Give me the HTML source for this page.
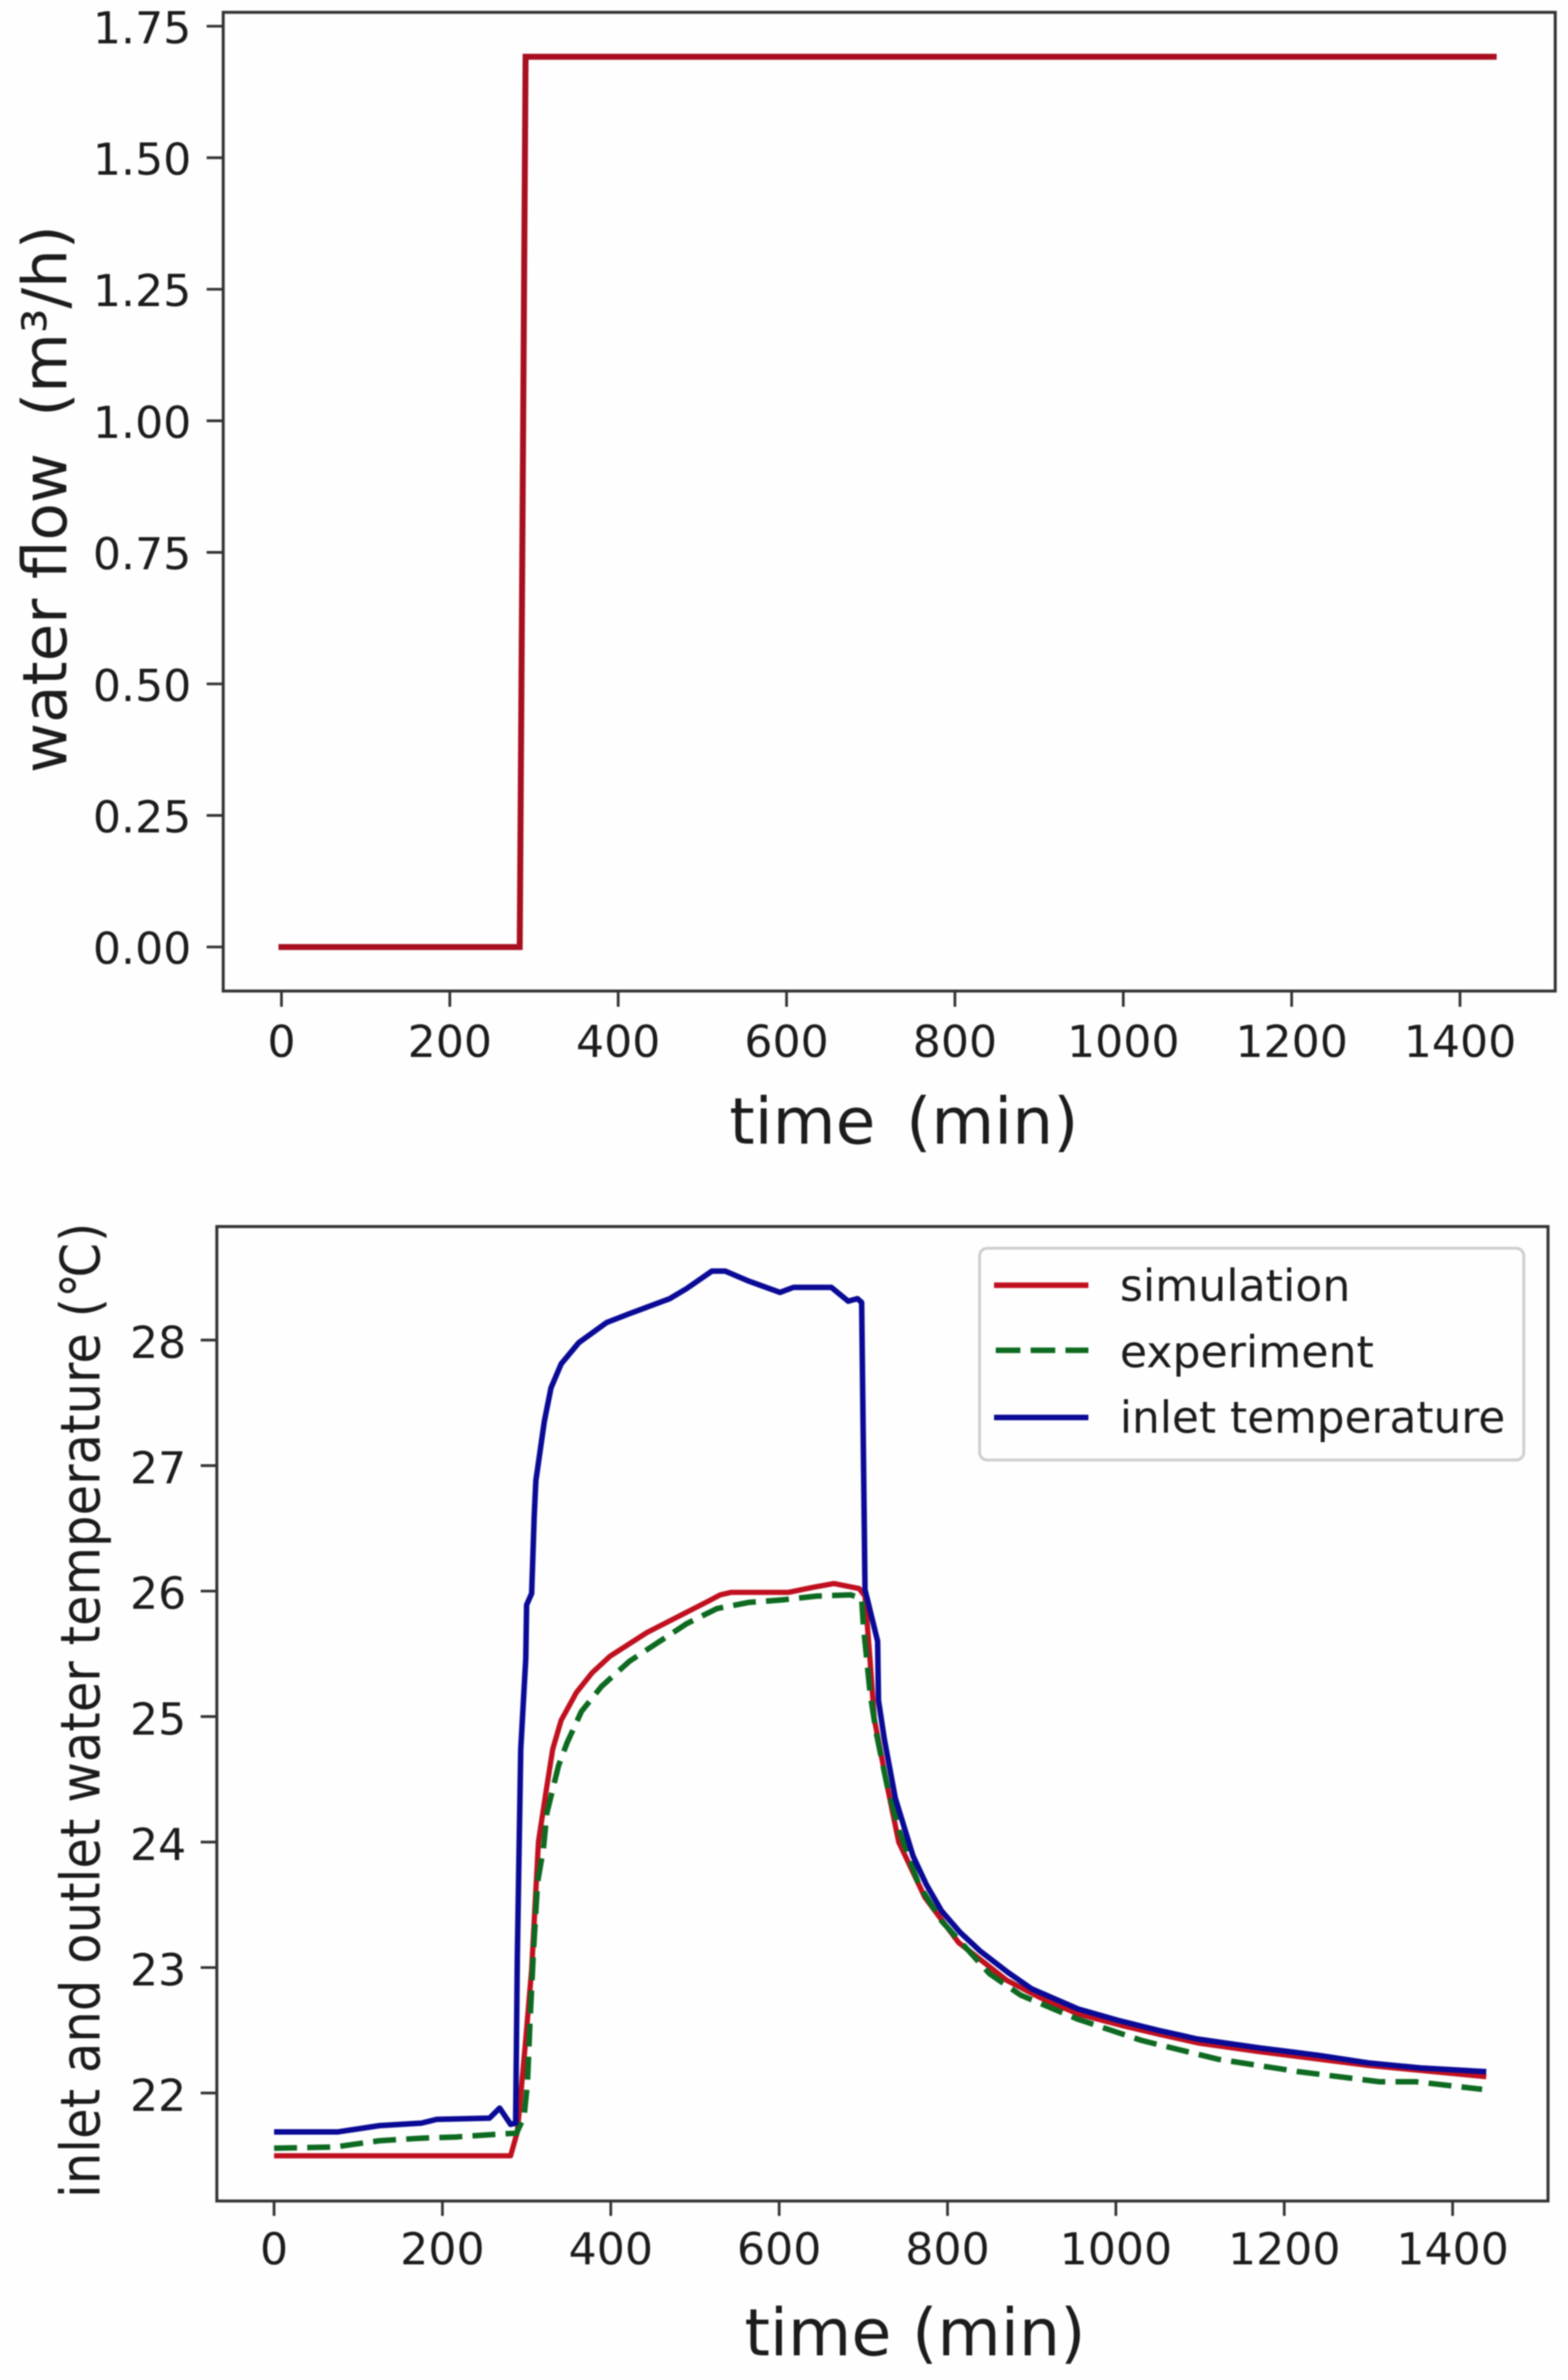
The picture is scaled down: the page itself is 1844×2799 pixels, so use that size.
<!DOCTYPE html>
<html lang="en">
<head>
<meta charset="utf-8">
<title>Water flow and water temperature over time</title>
<style>
  html, body { margin: 0; padding: 0; background: #fefefe; }
  #figure { display: block; filter: blur(0.9px); }
  text { font-family: "DejaVu Sans", "Liberation Sans", "Noto Sans CJK SC", sans-serif; fill: #1c1c1c; white-space: pre; }
  .spine { fill: none; stroke: #333; stroke-width: 3.5; }
  .tick { stroke: #333; stroke-width: 3.2; }
  .ticklabel { font-size: 52px; }
</style>
</head>
<body>
<svg id="figure" xmlns="http://www.w3.org/2000/svg" width="1844" height="2799" viewBox="0 0 1844 2799">
  <rect x="0" y="0" width="1844" height="2799" fill="#fefefe"/>

  <g id="flow-chart">
    <rect class="spine" x="262.5" y="14.5" width="1566.5" height="1151"/>
    <g id="flow-ticks"></g>
    <path id="flow-line" fill="none" stroke="#a80f20" stroke-width="7" stroke-linecap="square" stroke-linejoin="miter"/>
    <text x="1063" y="1345" text-anchor="middle" font-size="76" word-spacing="12">time (min)</text>
    <text transform="translate(78 587) rotate(-90)" text-anchor="middle" font-size="72">water flow <tspan dx="20">(m³/h)</tspan></text>
  </g>

  <g id="temp-chart">
    <rect class="spine" x="255" y="1442.5" width="1565.5" height="1146"/>
    <g id="temp-ticks"></g>
    <path id="sim-line" fill="none" stroke="#c0101f" stroke-width="6.2" stroke-linejoin="round"/>
    <path id="exp-line" fill="none" stroke="#0d6a20" stroke-width="6.5" stroke-dasharray="27 12"/>
    <path id="inlet-line" fill="none" stroke="#0a0a96" stroke-width="6.5" stroke-linejoin="round"/>
    <text x="1076" y="2770" text-anchor="middle" font-size="76.5">time (min)</text>
    <text transform="translate(117 2011.5) rotate(-90)" text-anchor="middle" font-size="64" textLength="1147" lengthAdjust="spacingAndGlyphs">inlet and outlet water temperature (℃)</text>

    <g>
      <rect x="1152" y="1468" width="640" height="249" rx="9" ry="9" fill="#fefefe" stroke="#cfcfcf" stroke-width="3.5"/>
      <g>
        <line x1="1169" x2="1280" y1="1511.5" y2="1511.5" stroke="#c0101f" stroke-width="6.5"/>
        <text x="1317" y="1530" font-size="52">simulation</text>
      </g>
      <g>
        <line x1="1171" x2="1280" y1="1588" y2="1588" stroke="#0d6a20" stroke-width="6.5" stroke-dasharray="29 12"/>
        <text x="1317" y="1608" font-size="52">experiment</text>
      </g>
      <g>
        <line x1="1169" x2="1280" y1="1667" y2="1667" stroke="#0a0a96" stroke-width="6.5"/>
        <text x="1317" y="1685" font-size="51.5">inlet temperature</text>
      </g>
    </g>
  </g>
</svg>

<script>
const xTickValues = [0, 200, 400, 600, 800, 1000, 1200, 1400];
const flowTickValues = [0, 0.25, 0.5, 0.75, 1, 1.25, 1.5, 1.75];
const flowTickLabels = ["0.00", "0.25", "0.50", "0.75", "1.00", "1.25", "1.50", "1.75"];
const tempTickValues = [22, 23, 24, 25, 26, 27, 28];
const tempTickLabels = ["22", "23", "24", "25", "26", "27", "28"];

const flowTime = [0, 283, 290, 1440];
const flowValues = [0, 0, 1.692, 1.692];

const inletTime = [0, 76, 125, 175, 193, 256, 268, 281, 287, 289, 293, 299, 300, 306, 309, 311, 321, 329, 341, 362, 395, 422, 470, 490, 520, 536, 564, 601, 617, 662, 682, 693, 698, 702, 717, 718, 725, 738, 759, 775, 793, 815, 839, 872, 900, 955, 1002, 1050, 1097, 1170, 1241, 1300, 1362, 1440];
const inletTemp = [21.69, 21.69, 21.74, 21.76, 21.79, 21.80, 21.88, 21.75, 21.76, 23.09, 24.74, 25.46, 25.89, 25.98, 26.59, 26.88, 27.35, 27.62, 27.81, 27.98, 28.14, 28.21, 28.33, 28.41, 28.55, 28.55, 28.47, 28.38, 28.42, 28.42, 28.31, 28.33, 28.30, 26.01, 25.60, 25.13, 24.82, 24.35, 23.89, 23.66, 23.45, 23.28, 23.13, 22.96, 22.83, 22.67, 22.58, 22.50, 22.43, 22.36, 22.30, 22.24, 22.20, 22.17];

const simTime = [0, 281, 289, 298, 306, 314, 323, 331, 341, 359, 378, 399, 443, 516, 530, 543, 601, 611, 640, 665, 695, 702, 708, 713, 728, 742, 773, 813, 870, 910, 955, 1006, 1050, 1097, 1170, 1241, 1300, 1362, 1440];
const simTemp = [21.50, 21.50, 21.69, 22.35, 22.98, 24.00, 24.40, 24.74, 24.97, 25.19, 25.35, 25.48, 25.67, 25.92, 25.97, 25.99, 25.99, 25.99, 26.03, 26.06, 26.02, 25.96, 25.45, 24.98, 24.46, 24.00, 23.56, 23.20, 22.90, 22.76, 22.63, 22.54, 22.47, 22.40, 22.33, 22.27, 22.22, 22.18, 22.13];

const expTime = [0, 72, 125, 175, 216, 261, 288, 297, 301, 304, 308, 313, 320, 324, 338, 348, 365, 389, 422, 456, 490, 526, 564, 604, 644, 685, 698, 700, 708, 715, 728, 742, 766, 793, 850, 887, 954, 1030, 1121, 1217, 1313, 1356, 1435];
const expTemp = [21.56, 21.57, 21.62, 21.64, 21.65, 21.67, 21.68, 21.81, 22.08, 22.57, 23.11, 23.68, 23.95, 24.23, 24.61, 24.79, 25.04, 25.24, 25.44, 25.59, 25.74, 25.86, 25.91, 25.93, 25.96, 25.97, 25.94, 25.73, 25.19, 24.88, 24.46, 24.10, 23.66, 23.37, 22.95, 22.78, 22.59, 22.42, 22.27, 22.17, 22.09, 22.09, 22.03];

const SVG_NS = "http://www.w3.org/2000/svg";

function flowX(v) { return 331 + v * 0.99; }
function flowY(v) { return 1113.7 - v * 618.8; }
function tempX(v) { return 322.3 + v * 0.99; }
function tempY(v) { return 2461.5 - (v - 22) * 147.58; }

function linePath(xs, ys, sx, sy) {
  let d = "";
  for (let i = 0; i < xs.length; i++) {
    d += (i ? " L" : "M") + sx(xs[i]).toFixed(1) + " " + sy(ys[i]).toFixed(1);
  }
  return d;
}

function makeLine(parent, x1, y1, x2, y2) {
  const el = document.createElementNS(SVG_NS, "line");
  el.setAttribute("class", "tick");
  el.setAttribute("x1", x1);
  el.setAttribute("y1", y1);
  el.setAttribute("x2", x2);
  el.setAttribute("y2", y2);
  parent.appendChild(el);
  return el;
}

function makeLabel(parent, x, y, anchor, str) {
  const el = document.createElementNS(SVG_NS, "text");
  el.setAttribute("class", "ticklabel");
  el.setAttribute("x", x);
  el.setAttribute("y", y);
  el.setAttribute("text-anchor", anchor);
  el.textContent = str;
  parent.appendChild(el);
  return el;
}

const flowTicks = document.getElementById("flow-ticks");
const tempTicks = document.getElementById("temp-ticks");

xTickValues.forEach(function (v) {
  const tick = makeLine(flowTicks, flowX(v), 1165.5, flowX(v), 1184);
  
  
  const label = makeLabel(flowTicks, flowX(v), 1243, "middle", String(v));
  
  
});

flowTickValues.forEach(function (v, i) {
  const tick = makeLine(flowTicks, 243, flowY(v), 262.5, flowY(v));
  
  
  const label = makeLabel(flowTicks, 225, flowY(v) + 20, "end", flowTickLabels[i]);
  
  
});

xTickValues.forEach(function (v) {
  const tick = makeLine(tempTicks, tempX(v), 2588.5, tempX(v), 2606);
  
  
  const label = makeLabel(tempTicks, tempX(v), 2663, "middle", String(v));
  
  
});

tempTickValues.forEach(function (v, i) {
  const tick = makeLine(tempTicks, 236, tempY(v), 255, tempY(v));
  
  
  const label = makeLabel(tempTicks, 219, tempY(v) + 21, "end", tempTickLabels[i]);
  
  
});

document.getElementById("flow-line").setAttribute("d", linePath(flowTime, flowValues, flowX, flowY));
document.getElementById("sim-line").setAttribute("d", linePath(simTime, simTemp, tempX, tempY));
document.getElementById("exp-line").setAttribute("d", linePath(expTime, expTemp, tempX, tempY));
document.getElementById("inlet-line").setAttribute("d", linePath(inletTime, inletTemp, tempX, tempY));
</script>
</body>
</html>
